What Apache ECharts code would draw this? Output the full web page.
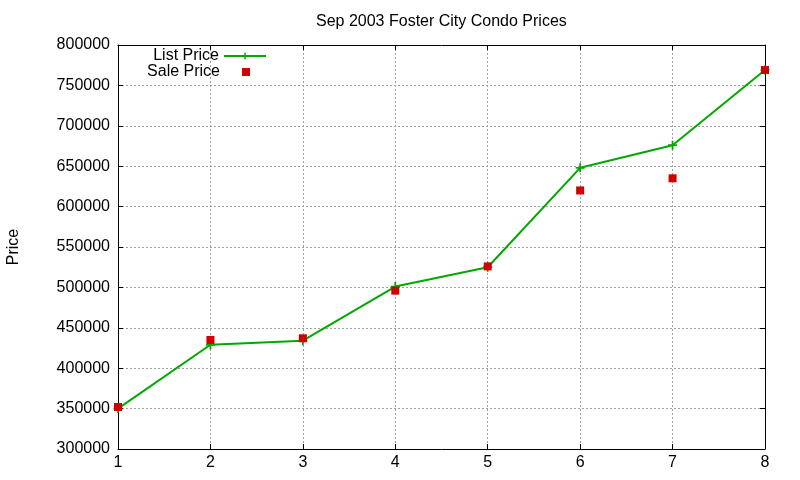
<!DOCTYPE html>
<html>
<head>
<meta charset="utf-8">
<title>Sep 2003 Foster City Condo Prices</title>
<script src="https://cdn.jsdelivr.net/npm/echarts@6/dist/echarts.min.js"></script>
<style>
  html, body { margin: 0; padding: 0; background: #fff; }
  #chart { width: 800px; height: 480px; }
</style>
</head>
<body>
<div id="chart"></div>
<script>
// data
var units = [1, 2, 3, 4, 5, 6, 7, 8];
var listPrice = [350000, 429000, 434000, 501000, 525000, 648000, 676000, 769000];
var salePrice = [352000, 435000, 437000, 496000, 526000, 620000, 635000, 769000];

var FONT = 'Liberation Sans, Arial, sans-serif';
var GREEN = '#00a800';
var RED = '#d00000';
// filled "+" marker like gnuplot's point type 1
var PLUS = 'path://M4,0 H6 V4 H10 V6 H6 V10 H4 V6 H0 V4 H4 Z';
// 8x8 square centred in a 42x8 box (tiny end points only stretch the bounds)
var SQUARE_KEY = 'path://M0,4 L0.01,4 L0,4.01 Z M17,0 H25 V8 H17 Z M41.99,4 L42,4 L42,4.01 Z';

function pairs(xs, ys) {
    var out = [];
    for (var i = 0; i < xs.length; i++) {
        out.push([xs[i], ys[i]]);
    }
    return out;
}

var gridLine = { show: true, lineStyle: { color: '#a0a0a0', type: [2, 2], width: 1 } };
var blackLine = { show: true, lineStyle: { color: '#000', width: 1 } };
var inTick = { show: true, inside: true, length: 5, lineStyle: { color: '#000' } };

var chart = echarts.init(document.getElementById('chart'));

var option = {
    animation: false,
    backgroundColor: '#fff',
    textStyle: { fontFamily: FONT },
    title: {
        text: 'Sep 2003 Foster City Condo Prices',
        left: 316,
        top: 14,
        padding: 0,
        textStyle: { fontFamily: FONT, fontSize: 16, fontWeight: 'normal', color: '#000' }
    },
    legend: [
        {
            data: ['List Price'],
            orient: 'vertical',
            align: 'right',
            right: 533,
            top: 48,
            padding: 0,
            itemWidth: 42,
            itemHeight: 9,
            textStyle: { fontFamily: FONT, fontSize: 16, color: '#000' }
        },
        {
            data: [{ name: 'Sale Price', icon: SQUARE_KEY }],
            orient: 'vertical',
            align: 'right',
            right: 533,
            top: 64,
            padding: 0,
            itemWidth: 42,
            itemHeight: 8,
            symbolKeepAspect: false,
            textStyle: { fontFamily: FONT, fontSize: 16, color: '#000' }
        }
    ],
    grid: { left: 118, right: 35, top: 45, bottom: 31, containLabel: false, outerBoundsMode: 'none' },
    xAxis: [
        {
            type: 'value',
            min: 1,
            max: 8,
            interval: 1,
            axisLine: blackLine,
            axisTick: inTick,
            splitLine: gridLine,
            axisLabel: { fontFamily: FONT, fontSize: 16, color: '#000', margin: 6 }
        },
        {
            type: 'value',
            position: 'top',
            min: 1,
            max: 8,
            interval: 1,
            axisLine: blackLine,
            axisTick: inTick,
            splitLine: { show: false },
            axisLabel: { show: false }
        }
    ],
    yAxis: [
        {
            type: 'value',
            min: 300000,
            max: 800000,
            interval: 50000,
            name: 'Price',
            nameLocation: 'middle',
            nameRotate: 90,
            nameGap: 96,
            nameTextStyle: { fontFamily: FONT, fontSize: 16, color: '#000' },
            axisLine: blackLine,
            axisTick: inTick,
            splitLine: gridLine,
            axisLabel: {
                fontFamily: FONT, fontSize: 16, color: '#000', margin: 8,
                formatter: function (v) { return String(v); }
            }
        },
        {
            type: 'value',
            position: 'right',
            min: 300000,
            max: 800000,
            interval: 50000,
            axisLine: blackLine,
            axisTick: inTick,
            splitLine: { show: false },
            axisLabel: { show: false }
        }
    ],
    series: [
        {
            name: 'List Price',
            type: 'line',
            data: pairs(units, listPrice),
            symbol: PLUS,
            symbolSize: 9,
            showAllSymbol: true,
            itemStyle: { color: GREEN },
            lineStyle: { color: GREEN, width: 2 },
            z: 3
        },
        {
            name: 'Sale Price',
            type: 'scatter',
            data: pairs(units, salePrice),
            symbol: 'rect',
            symbolSize: 8,
            itemStyle: { color: RED, opacity: 1 },
            z: 4
        }
    ]
};

chart.setOption(option);
</script>
</body>
</html>
